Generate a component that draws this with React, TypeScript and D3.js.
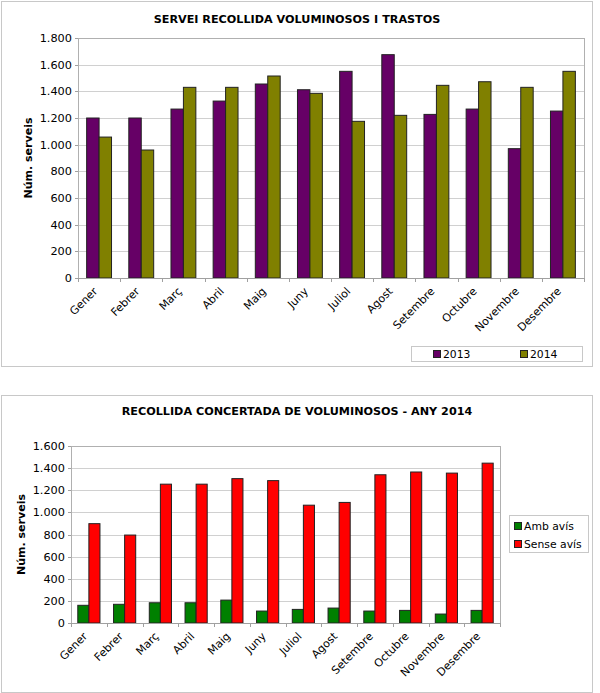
import React from "react";
import * as d3 from "d3";

const months = ["Gener","Febrer","Març","Abril","Maig","Juny","Juliol","Agost","Setembre","Octubre","Novembre","Desembre"];
const serveis2013 = [1200,1200,1267,1327,1455,1412,1550,1675,1227,1267,970,1252];
const serveis2014 = [1057,960,1430,1430,1515,1385,1175,1220,1445,1472,1430,1550];
const ambAvis = [160,169,183,183,207,108,123,135,108,114,81,114];
const senseAvis = [898,795,1255,1255,1305,1287,1065,1090,1340,1365,1355,1445];
const ticks1 = [0,200,400,600,800,1000,1200,1400,1600,1800];
const ticks2 = [0,200,400,600,800,1000,1200,1400,1600];

const FONT = "'DejaVu Sans', Verdana, sans-serif";
const fmt = (v: number) => d3.format(",")(v).replace(/,/g, ".");

type Series = { name: string; values: number[]; color: string };

function BarChart(props: {
  top: number; height: number; title: string; titleY: number;
  plot: { x0: number; x1: number; y0: number; y1: number };
  yMax: number; ticks: number[]; series: Series[]; pad: number;
  yTitleX: number; legend: React.ReactNode;
}) {
  const { plot, series } = props;
  const x = d3.scaleBand<string>().domain(months).range([plot.x0, plot.x1]).paddingInner(0).paddingOuter(0);
  const y = d3.scaleLinear().domain([0, props.yMax]).range([plot.y1, plot.y0]);
  const bw = x.bandwidth();
  const inner = d3.scaleBand<string>().domain(series.map(s => s.name)).range([props.pad * bw, bw - props.pad * bw]);
  return (
    <g>
      <rect x={1.5} y={props.top + 0.5} width={591} height={props.height} fill="#fff" stroke="#c8c8c8" />
      <text x={297} y={props.titleY} textAnchor="middle" fontFamily={FONT} fontWeight="bold" fontSize={11.2} fill="#000">{props.title}</text>
      {props.ticks.map(t => (
        <g key={t}>
          <line x1={plot.x0} x2={plot.x1} y1={Math.round(y(t)) + 0.5} y2={Math.round(y(t)) + 0.5} stroke="#d0d0d0" />
          <line x1={plot.x0 - 3} x2={plot.x0} y1={Math.round(y(t)) + 0.5} y2={Math.round(y(t)) + 0.5} stroke="#a0a0a0" />
          <text x={plot.x0 - 6} y={y(t) + 4} textAnchor="end" fontFamily={FONT} fontSize={11.3} fill="#000">{fmt(t)}</text>
        </g>
      ))}
      <rect x={plot.x0 + 0.5} y={plot.y0 + 0.5} width={plot.x1 - plot.x0} height={plot.y1 - plot.y0} fill="none" stroke="#b0b0b0" />
      {months.map((m, i) => (
        <g key={m}>
          {series.map(s => (
            <rect key={s.name} x={(x(m) as number) + (inner(s.name) as number)} y={y(s.values[i])}
              width={inner.bandwidth()} height={y(0) - y(s.values[i])} fill={s.color} stroke="#222" strokeWidth={1} />
          ))}
        </g>
      ))}
      <line x1={plot.x0} x2={plot.x1} y1={plot.y1 + 0.5} y2={plot.y1 + 0.5} stroke="#a0a0a0" />
      {months.concat([""]).map((m, i) => {
        const xx = Math.round(plot.x0 + i * bw) + 0.5;
        return <line key={"t" + i} x1={xx} x2={xx} y1={plot.y1} y2={plot.y1 + 4} stroke="#a0a0a0" />;
      })}
      {months.map(m => {
        const cx = (x(m) as number) + bw / 2 - 1;
        const cy = plot.y1 + 14;
        return (
          <text key={"l" + m} x={cx} y={cy} textAnchor="end" fontFamily={FONT} fontSize={11} fill="#000"
            transform={`rotate(-45 ${cx} ${cy})`}>{m}</text>
        );
      })}
      <text x={props.yTitleX} y={(plot.y0 + plot.y1) / 2} textAnchor="middle" fontFamily={FONT} fontWeight="bold" fontSize={11}
        transform={`rotate(-90 ${props.yTitleX} ${(plot.y0 + plot.y1) / 2})`}>Núm. serveis</text>
      {props.legend}
    </g>
  );
}

export default function App() {
  const s1: Series[] = [
    { name: "2013", values: serveis2013, color: "#660066" },
    { name: "2014", values: serveis2014, color: "#808000" },
  ];
  const s2: Series[] = [
    { name: "Amb avís", values: ambAvis, color: "#008000" },
    { name: "Sense avís", values: senseAvis, color: "#ff0000" },
  ];
  const legend1 = (
    <g>
      <rect x={411.5} y={346.5} width={171} height={15} fill="#fff" stroke="#c8c8c8" />
      {s1.map((s, i) => (
        <g key={s.name}>
          <rect x={433.5 + i * 87} y={350.5} width={7} height={7} fill={s.color} stroke="#222" />
          <text x={443 + i * 87} y={358} fontFamily={FONT} fontSize={10.8}>{s.name}</text>
        </g>
      ))}
    </g>
  );
  const legend2 = (
    <g>
      <rect x={509.5} y={515.5} width={79} height={37} fill="#fff" stroke="#c8c8c8" />
      {s2.map((s, i) => (
        <g key={s.name}>
          <rect x={514.5} y={522.5 + i * 18} width={7} height={7} fill={s.color} stroke="#222" />
          <text x={524} y={530 + i * 18} fontFamily={FONT} fontSize={10.8}>{s.name}</text>
        </g>
      ))}
    </g>
  );
  return (
    <svg width={600} height={693} style={{ position: "absolute", left: 0, top: 0, background: "#fff" }}>
      <BarChart top={1} height={365} title="SERVEI RECOLLIDA VOLUMINOSOS I TRASTOS" titleY={23}
        plot={{ x0: 78, x1: 584, y0: 38, y1: 278 }} yMax={1800} ticks={ticks1} series={s1} pad={0.205}
        yTitleX={32} legend={legend1} />
      <BarChart top={395} height={297} title="RECOLLIDA CONCERTADA DE VOLUMINOSOS - ANY 2014" titleY={415}
        plot={{ x0: 71, x1: 500, y0: 446, y1: 623 }} yMax={1600} ticks={ticks2} series={s2} pad={0.19}
        yTitleX={25} legend={legend2} />
    </svg>
  );
}
